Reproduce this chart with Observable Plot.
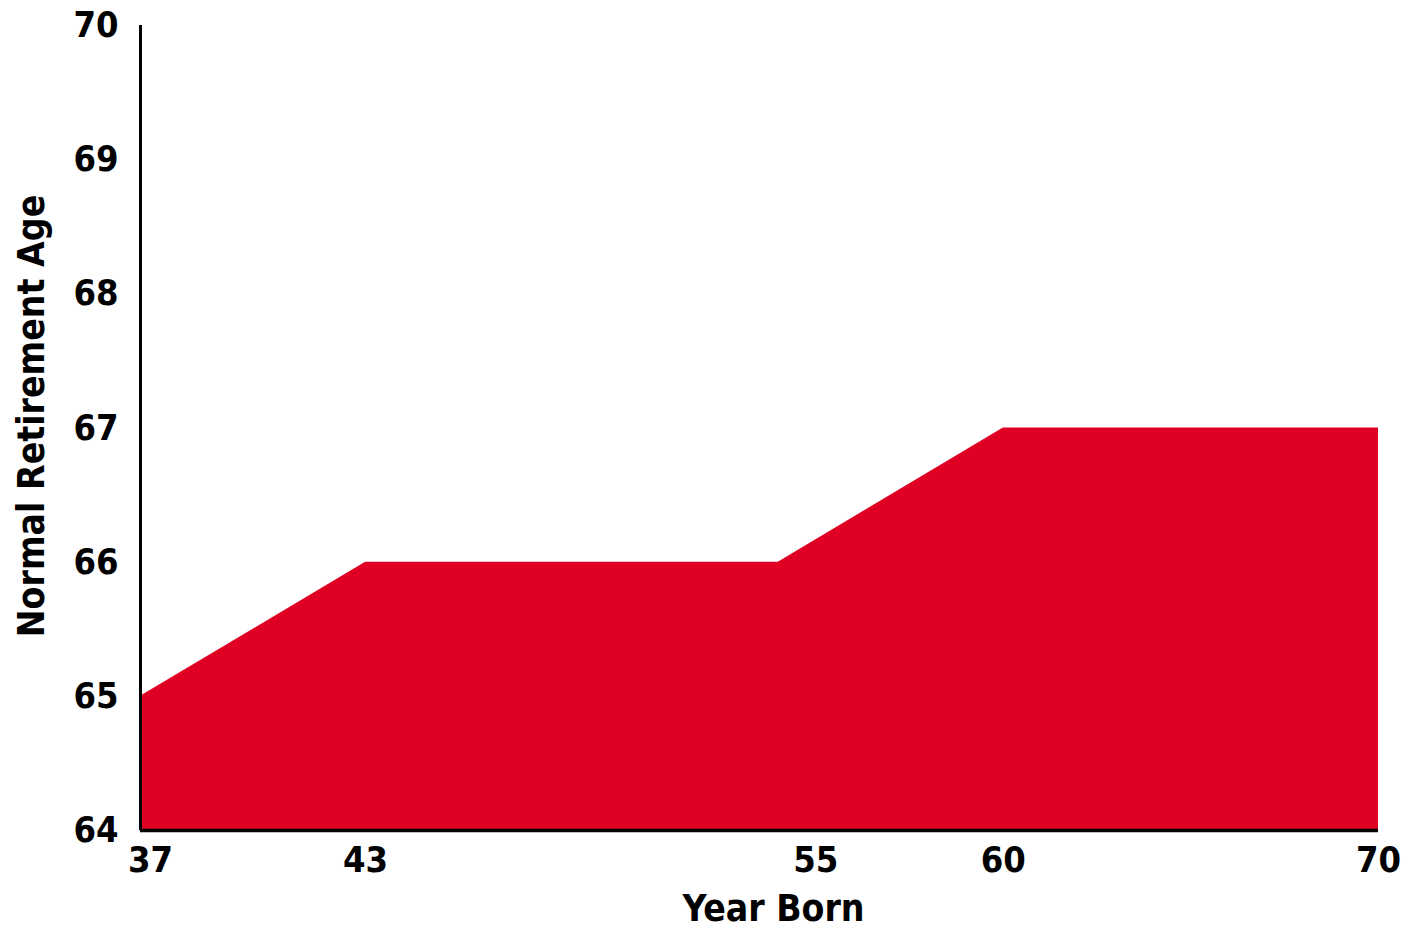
<!DOCTYPE html>
<html>
<head>
<meta charset="utf-8">
<script src="https://cdn.jsdelivr.net/npm/d3@7"></script>
<script src="https://cdn.jsdelivr.net/npm/@observablehq/plot@0.6"></script>
<style>
  html, body { margin: 0; padding: 0; background: #fff; }
  #chart svg { display: block; font-stretch: condensed; }
</style>
</head>
<body>
<div id="chart"></div>
<script>
const yearBorn = [37, 43, 54, 60, 70];
const retirementAge = [65, 66, 66, 67, 67];
const xTicks = [43, 55, 60, 70];
const xFirstTick = [37];
const yTicks = [64, 65, 66, 67, 68, 69, 70];
const xTitle = ["Year Born"];
const yTitle = ["Normal Retirement Age"];

const data = yearBorn.map((x, i) => ({x, y: retirementAge[i]}));
const font = "'DejaVu Sans', sans-serif";

const chart = Plot.plot({
  width: 1407,
  height: 931,
  marginLeft: 140,
  marginRight: 29,
  marginTop: 25,
  marginBottom: 101,
  style: {fontFamily: font, fontWeight: "bold", fontSize: "36px", color: "#000", background: "#fff", fontStretch: "condensed"},
  x: {domain: [37, 70]},
  y: {domain: [64, 70]},
  marks: [
    Plot.areaY(data, {x: "x", y: "y", y1: 64, fill: "#E00024"}),
    Plot.ruleX([37], {stroke: "#000", strokeWidth: 3}),
    Plot.ruleY([64], {stroke: "#000", strokeWidth: 3.5}),
    Plot.axisY({ticks: yTicks, tickFormat: "d", tickSize: 0, tickPadding: 22, fontSize: 36, fontWeight: "bold", label: null}),
    Plot.axisX({ticks: xTicks, tickFormat: "d", tickSize: 0, tickPadding: 16, fontSize: 36, fontWeight: "bold", label: null}),
    Plot.axisX({ticks: xFirstTick, tickFormat: "d", tickSize: 0, tickPadding: 16, fontSize: 36, fontWeight: "bold",
      dx: 10, label: null}),
    Plot.text(xTitle, {text: d => d, frameAnchor: "bottom", textAnchor: "middle", lineAnchor: "middle", dx: 14, dy: 79,
      fontSize: 37, fontWeight: "bold", fill: "#000"}),
    Plot.text(yTitle, {text: d => d, frameAnchor: "left", textAnchor: "middle", lineAnchor: "middle", rotate: -90, dx: -108, dy: -12,
      fontSize: 37, fontWeight: "bold", fill: "#000"})
  ]
});
document.getElementById("chart").appendChild(chart);
</script>
</body>
</html>
